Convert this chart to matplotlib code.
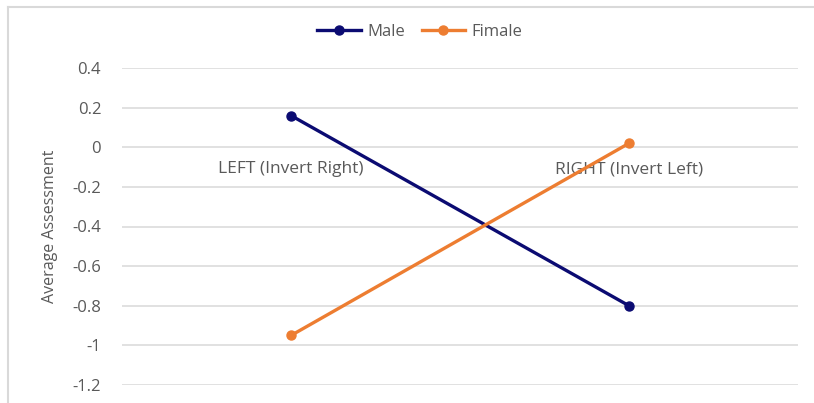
import matplotlib.pyplot as plt
from matplotlib.lines import Line2D

# Data
categories = ["LEFT (Invert Right)", "RIGHT (Invert Left)"]
male = [0.16, -0.80]
female = [-0.95, 0.02]
y_ticks = [0.4, 0.2, 0, -0.2, -0.4, -0.6, -0.8, -1, -1.2]
y_tick_labels = ["0.4", "0.2", "0", "-0.2", "-0.4", "-0.6", "-0.8", "-1", "-1.2"]

plt.rcParams['font.family'] = ['Open Sans', 'DejaVu Sans']
txt = '#595959'

fig = plt.figure(figsize=(8.14, 4.03), dpi=100)
ax = fig.add_axes([122 / 814, 18 / 403, 676 / 814, 317 / 403])

x = list(range(len(categories)))
ax.plot(x, male, color='#0B0B72', lw=2.4, marker='o', ms=6.5, label='Male')
ax.plot(x, female, color='#ED7D31', lw=2.4, marker='o', ms=6.5, label='Fimale')

ax.set_xlim(-0.5, 1.5)
ax.set_ylim(-1.2, 0.4)

# horizontal gridlines only
ax.set_yticks(y_ticks)
ax.set_yticklabels(y_tick_labels)
ax.yaxis.grid(True, color='#D9D9D9', lw=1.1)
ax.set_axisbelow(True)
for s in ax.spines.values():
    s.set_visible(False)

# category labels sit just under the zero line
ax.spines['bottom'].set_position(('data', 0))
ax.set_xticks(x)
ax.set_xticklabels(categories)
ax.tick_params(axis='x', length=0, pad=10, labelsize=12.5, labelcolor=txt)
ax.tick_params(axis='y', length=0, pad=15, labelsize=12, labelcolor=txt)

ax.set_ylabel("Average Assessment", fontsize=11.5, color=txt)
ax.yaxis.set_label_coords(-64 / 676, 0.5)

fig.legend(loc='center', bbox_to_anchor=(420 / 814, 1 - 32 / 403), ncol=2,
           frameon=False, fontsize=12, labelcolor=txt,
           handlelength=2.6, columnspacing=1.0, handletextpad=0.4)

# chart area frame (top and left edges visible)
fig.add_artist(Line2D([7.5 / 814, 7.5 / 814], [0, 1 - 6.5 / 403], color='#D9D9D9', lw=1.5))
fig.add_artist(Line2D([7.5 / 814, 1], [1 - 6.5 / 403, 1 - 6.5 / 403], color='#D9D9D9', lw=1.5))

fig.savefig("out.png", dpi=100)
